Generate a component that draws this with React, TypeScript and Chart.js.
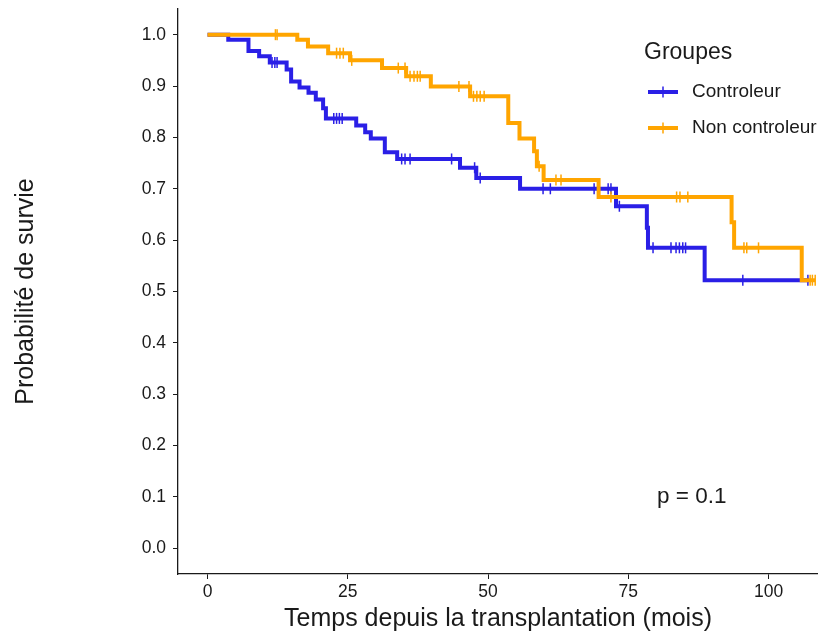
import { useEffect, useRef } from 'react';
import { Chart, registerables } from 'chart.js';

Chart.register(...registerables);

// Kaplan–Meier estimates: event times (months) and survival after each event
const controleurTimes = [0, 3.7, 7.3, 9.2, 11.1, 14.1, 14.9, 16.4, 18.0, 19.3, 20.6, 21.1, 26.5, 28.1, 29.1, 31.6, 33.8, 45.0, 47.9, 55.7, 72.8, 78.3, 78.5, 88.6, 107.2];
const controleurSurvival = [1.0, 0.99, 0.968, 0.958, 0.946, 0.932, 0.909, 0.897, 0.887, 0.874, 0.857, 0.837, 0.823, 0.81, 0.798, 0.771, 0.758, 0.741, 0.721, 0.7, 0.666, 0.624, 0.585, 0.522, 0.522];
const controleurCensored = [11.5, 12.0, 12.4, 22.5, 23.0, 23.5, 24.0, 34.6, 35.2, 36.1, 43.5, 47.6, 48.6, 59.8, 61.1, 68.9, 71.4, 71.9, 73.4, 79.4, 82.6, 83.5, 84.1, 84.7, 85.2, 95.4, 107.0];

const nonControleurTimes = [0, 16.0, 17.9, 21.5, 25.4, 31.1, 35.4, 39.8, 46.8, 53.6, 55.6, 58.2, 58.7, 59.9, 69.7, 93.4, 93.85, 105.9, 108.3];
const nonControleurSurvival = [1.0, 0.99, 0.977, 0.964, 0.95, 0.935, 0.919, 0.899, 0.88, 0.828, 0.798, 0.773, 0.744, 0.717, 0.684, 0.635, 0.585, 0.522, 0.522];
const nonControleurCensored = [12.1, 12.4, 23.0, 23.6, 24.2, 25.7, 34.0, 35.2, 36.1, 36.8, 37.4, 37.9, 44.8, 46.6, 47.4, 48.0, 48.6, 49.3, 59.1, 62.1, 63.0, 71.9, 83.6, 84.2, 85.6, 95.6, 96.1, 98.2, 107.4, 107.8, 108.3];

const groupLabels = ['Controleur', 'Non controleur'];
const groupColors = ['#2A1FE6', '#FFA500'];
const legendTitle = 'Groupes';
const pValueLabel = 'p = 0.1';
const xTicks = [0, 25, 50, 75, 100];
const yTicks = [0, 0.1, 0.2, 0.3, 0.4, 0.5, 0.6, 0.7, 0.8, 0.9, 1.0];

const FONT = "'Liberation Sans', Arial, Helvetica, sans-serif";
const INK = '#1a1a1a';

function survivalAt(times: number[], surv: number[], t: number): number {
  let v = surv[0];
  for (let i = 0; i < times.length; i++) {
    if (times[i] <= t) v = surv[i];
  }
  return v;
}

const curve = (times: number[], surv: number[]) => times.map((t, i) => ({ x: t, y: surv[i] }));
const marks = (times: number[], surv: number[], cens: number[]) =>
  cens.map((t) => ({ x: t, y: survivalAt(times, surv, t) }));

// Legend box and p-value annotation inside the plot area
const annotations = {
  id: 'kmAnnotations',
  afterDraw(chart: any) {
    const { ctx, scales } = chart;
    ctx.save();
    ctx.fillStyle = INK;
    ctx.textBaseline = 'middle';
    ctx.textAlign = 'left';
    ctx.font = `23px ${FONT}`;
    ctx.fillText(legendTitle, 644, 53);
    ctx.font = `19px ${FONT}`;
    const rows = [92, 128];
    groupLabels.forEach((label, i) => {
      const y = rows[i];
      ctx.strokeStyle = groupColors[i];
      ctx.lineWidth = 4;
      ctx.beginPath();
      ctx.moveTo(648, y);
      ctx.lineTo(678, y);
      ctx.stroke();
      ctx.lineWidth = 1.5;
      ctx.beginPath();
      ctx.moveTo(663, y - 5.5);
      ctx.lineTo(663, y + 5.5);
      ctx.stroke();
      ctx.fillStyle = INK;
      ctx.fillText(label, 692, y);
    });
    ctx.font = `22.5px ${FONT}`;
    ctx.textAlign = 'center';
    ctx.fillText(pValueLabel, scales.x.getPixelForValue(86.3), scales.y.getPixelForValue(0.1));
    ctx.restore();
  },
};

const noPadding = (scale: any) => {
  scale.paddingTop = 0;
  scale.paddingBottom = 0;
  scale.paddingLeft = 0;
  scale.paddingRight = 0;
};

export default function App() {
  const canvasRef = useRef<HTMLCanvasElement | null>(null);

  useEffect(() => {
    const canvas = canvasRef.current;
    if (!canvas) return;

    const lineStyle = (i: number) => ({
      borderColor: groupColors[i],
      backgroundColor: groupColors[i],
      borderWidth: 4,
      stepped: true as const,
      pointRadius: 0,
      fill: false,
    });
    const markStyle = (i: number) => ({
      borderColor: groupColors[i],
      backgroundColor: groupColors[i],
      showLine: false,
      pointStyle: 'line' as const,
      rotation: 90,
      pointRadius: 5.5,
      pointBorderWidth: 1.5,
    });

    const chart = new Chart(canvas, {
      type: 'line',
      data: {
        datasets: [
          { label: groupLabels[0], data: curve(controleurTimes, controleurSurvival), order: 3, ...lineStyle(0) },
          { label: groupLabels[0] + ' censure', data: marks(controleurTimes, controleurSurvival, controleurCensored), order: 2, ...markStyle(0) },
          { label: groupLabels[1], data: curve(nonControleurTimes, nonControleurSurvival), order: 1, ...lineStyle(1) },
          { label: groupLabels[1] + ' censure', data: marks(nonControleurTimes, nonControleurSurvival, nonControleurCensored), order: 0, ...markStyle(1) },
        ],
      },
      options: {
        responsive: false,
        animation: false,
        events: [],
        layout: { autoPadding: false, padding: { top: 9, right: 0, left: 0, bottom: 0 } },
        plugins: { legend: { display: false }, tooltip: { enabled: false } },
        scales: {
          x: {
            type: 'linear',
            min: -5.26,
            max: 108.8,
            afterBuildTicks: (scale: any) => {
              scale.ticks = xTicks.map((v) => ({ value: v }));
            },
            afterFit: (scale: any) => {
              scale.height = 61;
              noPadding(scale);
            },
            grid: { display: true, drawOnChartArea: false, drawTicks: true, tickLength: 5, color: INK, lineWidth: 1 },
            border: { display: true, color: INK, width: 1.3 },
            ticks: { color: INK, font: { family: FONT, size: 17.5 }, padding: 3, maxRotation: 0, autoSkip: false },
            title: { display: true, text: 'Temps depuis la transplantation (mois)', color: INK, font: { family: FONT, size: 25 }, padding: { top: 0, bottom: 1 } },
          },
          y: {
            type: 'linear',
            min: -0.05,
            max: 1.05,
            afterBuildTicks: (scale: any) => {
              scale.ticks = yTicks.map((v) => ({ value: v }));
            },
            afterFit: (scale: any) => {
              scale.width = 178;
              noPadding(scale);
            },
            grid: { display: true, drawOnChartArea: false, drawTicks: true, tickLength: 5, color: INK, lineWidth: 1 },
            border: { display: true, color: INK, width: 1.3 },
            ticks: {
              color: INK,
              font: { family: FONT, size: 17.5 },
              padding: 7,
              autoSkip: false,
              callback: (v: any) => Number(v).toFixed(1),
            },
            title: { display: true, text: 'Probabilité de survie', color: INK, font: { family: FONT, size: 25 }, padding: { top: 11, bottom: 0 } },
          },
        },
      },
      plugins: [annotations],
    });

    return () => chart.destroy();
  }, []);

  return (
    <div style={{ position: 'fixed', left: 0, top: 0, width: 818, height: 635, background: '#fff' }}>
      <canvas ref={canvasRef} width={818} height={635} style={{ display: 'block' }} />
    </div>
  );
}
